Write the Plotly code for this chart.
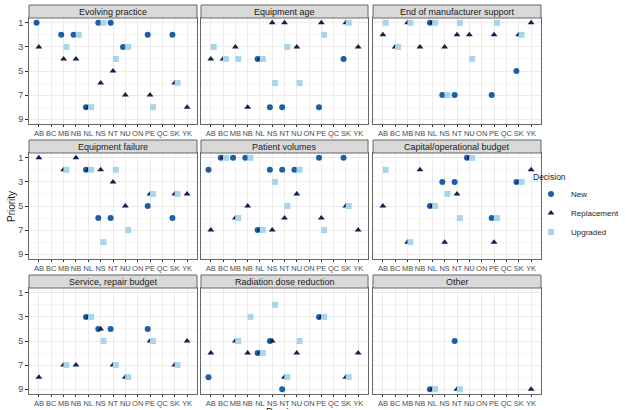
import plotly.graph_objects as go

PROVINCES = ["AB", "BC", "MB", "NB", "NL", "NS", "NT", "NU", "ON", "PE", "QC", "SK", "YK"]

FACETS = [
    "Evolving practice", "Equipment age", "End of manufacturer support",
    "Equipment failure", "Patient volumes", "Capital/operational budget",
    "Service, repair budget", "Radiation dose reduction", "Other",
]

# priority per province (order of PROVINCES), None = not reported
#                     AB    BC    MB    NB    NL    NS    NT    NU    ON    PE    QC    SK    YK
evolving_new       = [1,    None, 2,    2,    8,    1,    1,    3,    None, 2,    None, 2,    None]
evolving_repl      = [3,    None, 4,    4,    8,    6,    5,    7,    None, 7,    None, 6,    8]
evolving_upg       = [None, None, 3,    2,    8,    1,    4,    3,    None, 8,    None, 6,    None]

age_new            = [None, None, None, None, 4,    8,    8,    None, None, 8,    None, 4,    None]
age_repl           = [4,    4,    3,    8,    4,    1,    1,    3,    None, 1,    None, 1,    3]
age_upg            = [3,    4,    4,    None, 4,    6,    3,    6,    None, 2,    None, 1,    None]

support_new        = [None, None, None, None, 1,    7,    7,    None, None, 7,    None, 5,    None]
support_repl       = [2,    3,    1,    3,    1,    3,    2,    2,    None, 2,    None, 2,    1]
support_upg        = [1,    3,    1,    None, 1,    7,    1,    4,    None, 1,    None, 2,    None]

failure_new        = [None, None, None, None, 2,    6,    6,    None, None, 5,    None, 6,    None]
failure_repl       = [1,    None, 2,    1,    2,    2,    3,    5,    None, 4,    None, 4,    4]
failure_upg        = [None, None, 2,    None, 2,    8,    2,    7,    None, 4,    None, 4,    None]

volumes_new        = [2,    1,    1,    1,    7,    2,    2,    2,    None, 1,    None, 1,    None]
volumes_repl       = [7,    1,    6,    5,    7,    7,    6,    4,    None, 6,    None, 5,    7]
volumes_upg        = [None, 1,    6,    1,    7,    3,    5,    2,    None, 7,    None, 5,    None]

budget_new         = [None, None, None, None, 5,    3,    3,    1,    None, 6,    None, 3,    None]
budget_repl        = [5,    None, 8,    2,    5,    8,    4,    1,    None, 8,    None, 3,    2]
budget_upg         = [2,    None, 8,    None, 5,    4,    6,    1,    None, 6,    None, 3,    None]

service_new        = [None, None, None, None, 3,    4,    4,    None, None, 4,    None, None, None]
service_repl       = [8,    None, 7,    7,    3,    4,    7,    8,    None, 5,    None, 7,    5]
service_upg        = [None, None, 7,    None, 3,    5,    7,    8,    None, 5,    None, 7,    None]

radiation_new      = [8,    None, None, None, 6,    5,    9,    None, None, 3,    None, None, None]
radiation_repl     = [6,    None, 5,    6,    6,    5,    8,    6,    None, 3,    None, 8,    6]
radiation_upg      = [None, None, 5,    3,    6,    2,    8,    5,    None, 3,    None, 8,    None]

other_new          = [None, None, None, None, 9,    None, 5,    None, None, None, None, None, None]
other_repl         = [None, None, None, None, 9,    None, 9,    None, None, None, None, None, 9]
other_upg          = [None, None, None, None, 9,    None, 9,    None, None, None, None, None, None]

facet_data = {
    "Evolving practice": (evolving_new, evolving_repl, evolving_upg),
    "Equipment age": (age_new, age_repl, age_upg),
    "End of manufacturer support": (support_new, support_repl, support_upg),
    "Equipment failure": (failure_new, failure_repl, failure_upg),
    "Patient volumes": (volumes_new, volumes_repl, volumes_upg),
    "Capital/operational budget": (budget_new, budget_repl, budget_upg),
    "Service, repair budget": (service_new, service_repl, service_upg),
    "Radiation dose reduction": (radiation_new, radiation_repl, radiation_upg),
    "Other": (other_new, other_repl, other_upg),
}

# name, symbol, colour, dodge offset
DECISIONS = [
    ("New", "circle", "#1d5fa6", -0.19),
    ("Replacement", "triangle-up", "#1b1b4d", 0.0),
    ("Upgraded", "square", "#a4d7ea", 0.23),
]

W, H = 626, 410
COLS_PX = [(29, 197), (201, 368), (373, 541)]
ROWS_PX = [(18, 124), (153, 259), (288, 394)]
STRIP_H = 13
FONT = "Liberation Sans, Arial, sans-serif"

fig = go.Figure()
layout = {}
shapes = []
annotations = []

for k, facet in enumerate(FACETS):
    r, c = divmod(k, 3)
    sfx = "" if k == 0 else str(k + 1)
    x0, x1 = COLS_PX[c]
    y0, y1 = ROWS_PX[r]

    for (name, symbol, color, off), vals in zip(DECISIONS, facet_data[facet]):
        xs = [i + off for i, v in enumerate(vals) if v is not None]
        ys = [v for v in vals if v is not None]
        fig.add_trace(go.Scatter(
            x=xs, y=ys, mode="markers", name=name, legendgroup=name,
            showlegend=(k == 0),
            marker=dict(symbol=symbol, color=color, size=6, line=dict(width=0)),
            xaxis="x" + sfx, yaxis="y" + sfx,
        ))

    layout["xaxis" + sfx] = dict(
        domain=[x0 / W, x1 / W], anchor="y" + sfx, automargin=False,
        range=[-0.8, 12.8], tickvals=list(range(len(PROVINCES))), ticktext=PROVINCES,
        tickangle=0,
        showgrid=True, gridcolor="#ebebeb", gridwidth=1, zeroline=False,
        showline=True, mirror=True, linecolor="#666666", linewidth=1,
        ticks="outside", ticklen=2, tickcolor="#333333", tickwidth=1,
        tickfont=dict(size=7.5, color="#4d4d4d", family=FONT),
    )
    layout["yaxis" + sfx] = dict(
        domain=[1 - y1 / H, 1 - y0 / H], anchor="x" + sfx, automargin=False,
        range=[9.4, 0.6], tickvals=[1, 3, 5, 7, 9],
        showticklabels=(c == 0), ticks="outside" if c == 0 else "",
        ticklen=3, tickcolor="#333333", tickwidth=1,
        showgrid=True, gridcolor="#ebebeb", gridwidth=1, zeroline=False,
        minor=dict(tickvals=[2, 4, 6, 8], showgrid=True, gridcolor="#f5f5f5", gridwidth=1),
        showline=True, mirror=True, linecolor="#666666", linewidth=1,
        tickfont=dict(size=9, color="#4d4d4d", family=FONT),
    )

    shapes.append(dict(
        type="rect", xref="paper", yref="paper",
        x0=x0 / W, x1=x1 / W, y0=1 - y0 / H, y1=1 - (y0 - STRIP_H) / H,
        fillcolor="#d9d9d9", line=dict(color="#666666", width=1), layer="above",
    ))
    annotations.append(dict(
        text=facet, xref="paper", yref="paper", showarrow=False,
        x=(x0 + x1) / 2 / W, y=1 - (y0 - STRIP_H / 2) / H,
        xanchor="center", yanchor="middle",
        font=dict(size=9, color="#1a1a1a", family=FONT),
    ))

annotations.append(dict(
    text="Priority", xref="paper", yref="paper", showarrow=False,
    x=11 / W, y=1 - 207 / H, textangle=-90, xanchor="center", yanchor="middle",
    font=dict(size=10, color="#1a1a1a", family=FONT),
))
annotations.append(dict(
    text="Province", xref="paper", yref="paper", showarrow=False,
    x=285 / W, y=1 - 405 / H, xanchor="center", yanchor="top",
    font=dict(size=10, color="#1a1a1a", family=FONT),
))

fig.update_layout(
    **layout,
    shapes=shapes,
    annotations=annotations,
    width=W, height=H,
    margin=dict(l=0, r=0, t=0, b=0),
    paper_bgcolor="white", plot_bgcolor="white",
    font=dict(family=FONT),
    legend=dict(
        title=dict(text="Decision", font=dict(size=8.5, color="#1a1a1a")),
        x=531 / W, y=1 - 208 / H, xanchor="left", yanchor="middle",
        font=dict(size=8, color="#1a1a1a"), itemwidth=30,
        tracegroupgap=0, bgcolor="rgba(0,0,0,0)",
    ),
)

# page body has a default 8px margin; drop it so the figure sits at the window origin
fig.write_html(
    "out.html",
    config={"displayModeBar": False},
    post_script="document.body.style.margin='0';",
)
